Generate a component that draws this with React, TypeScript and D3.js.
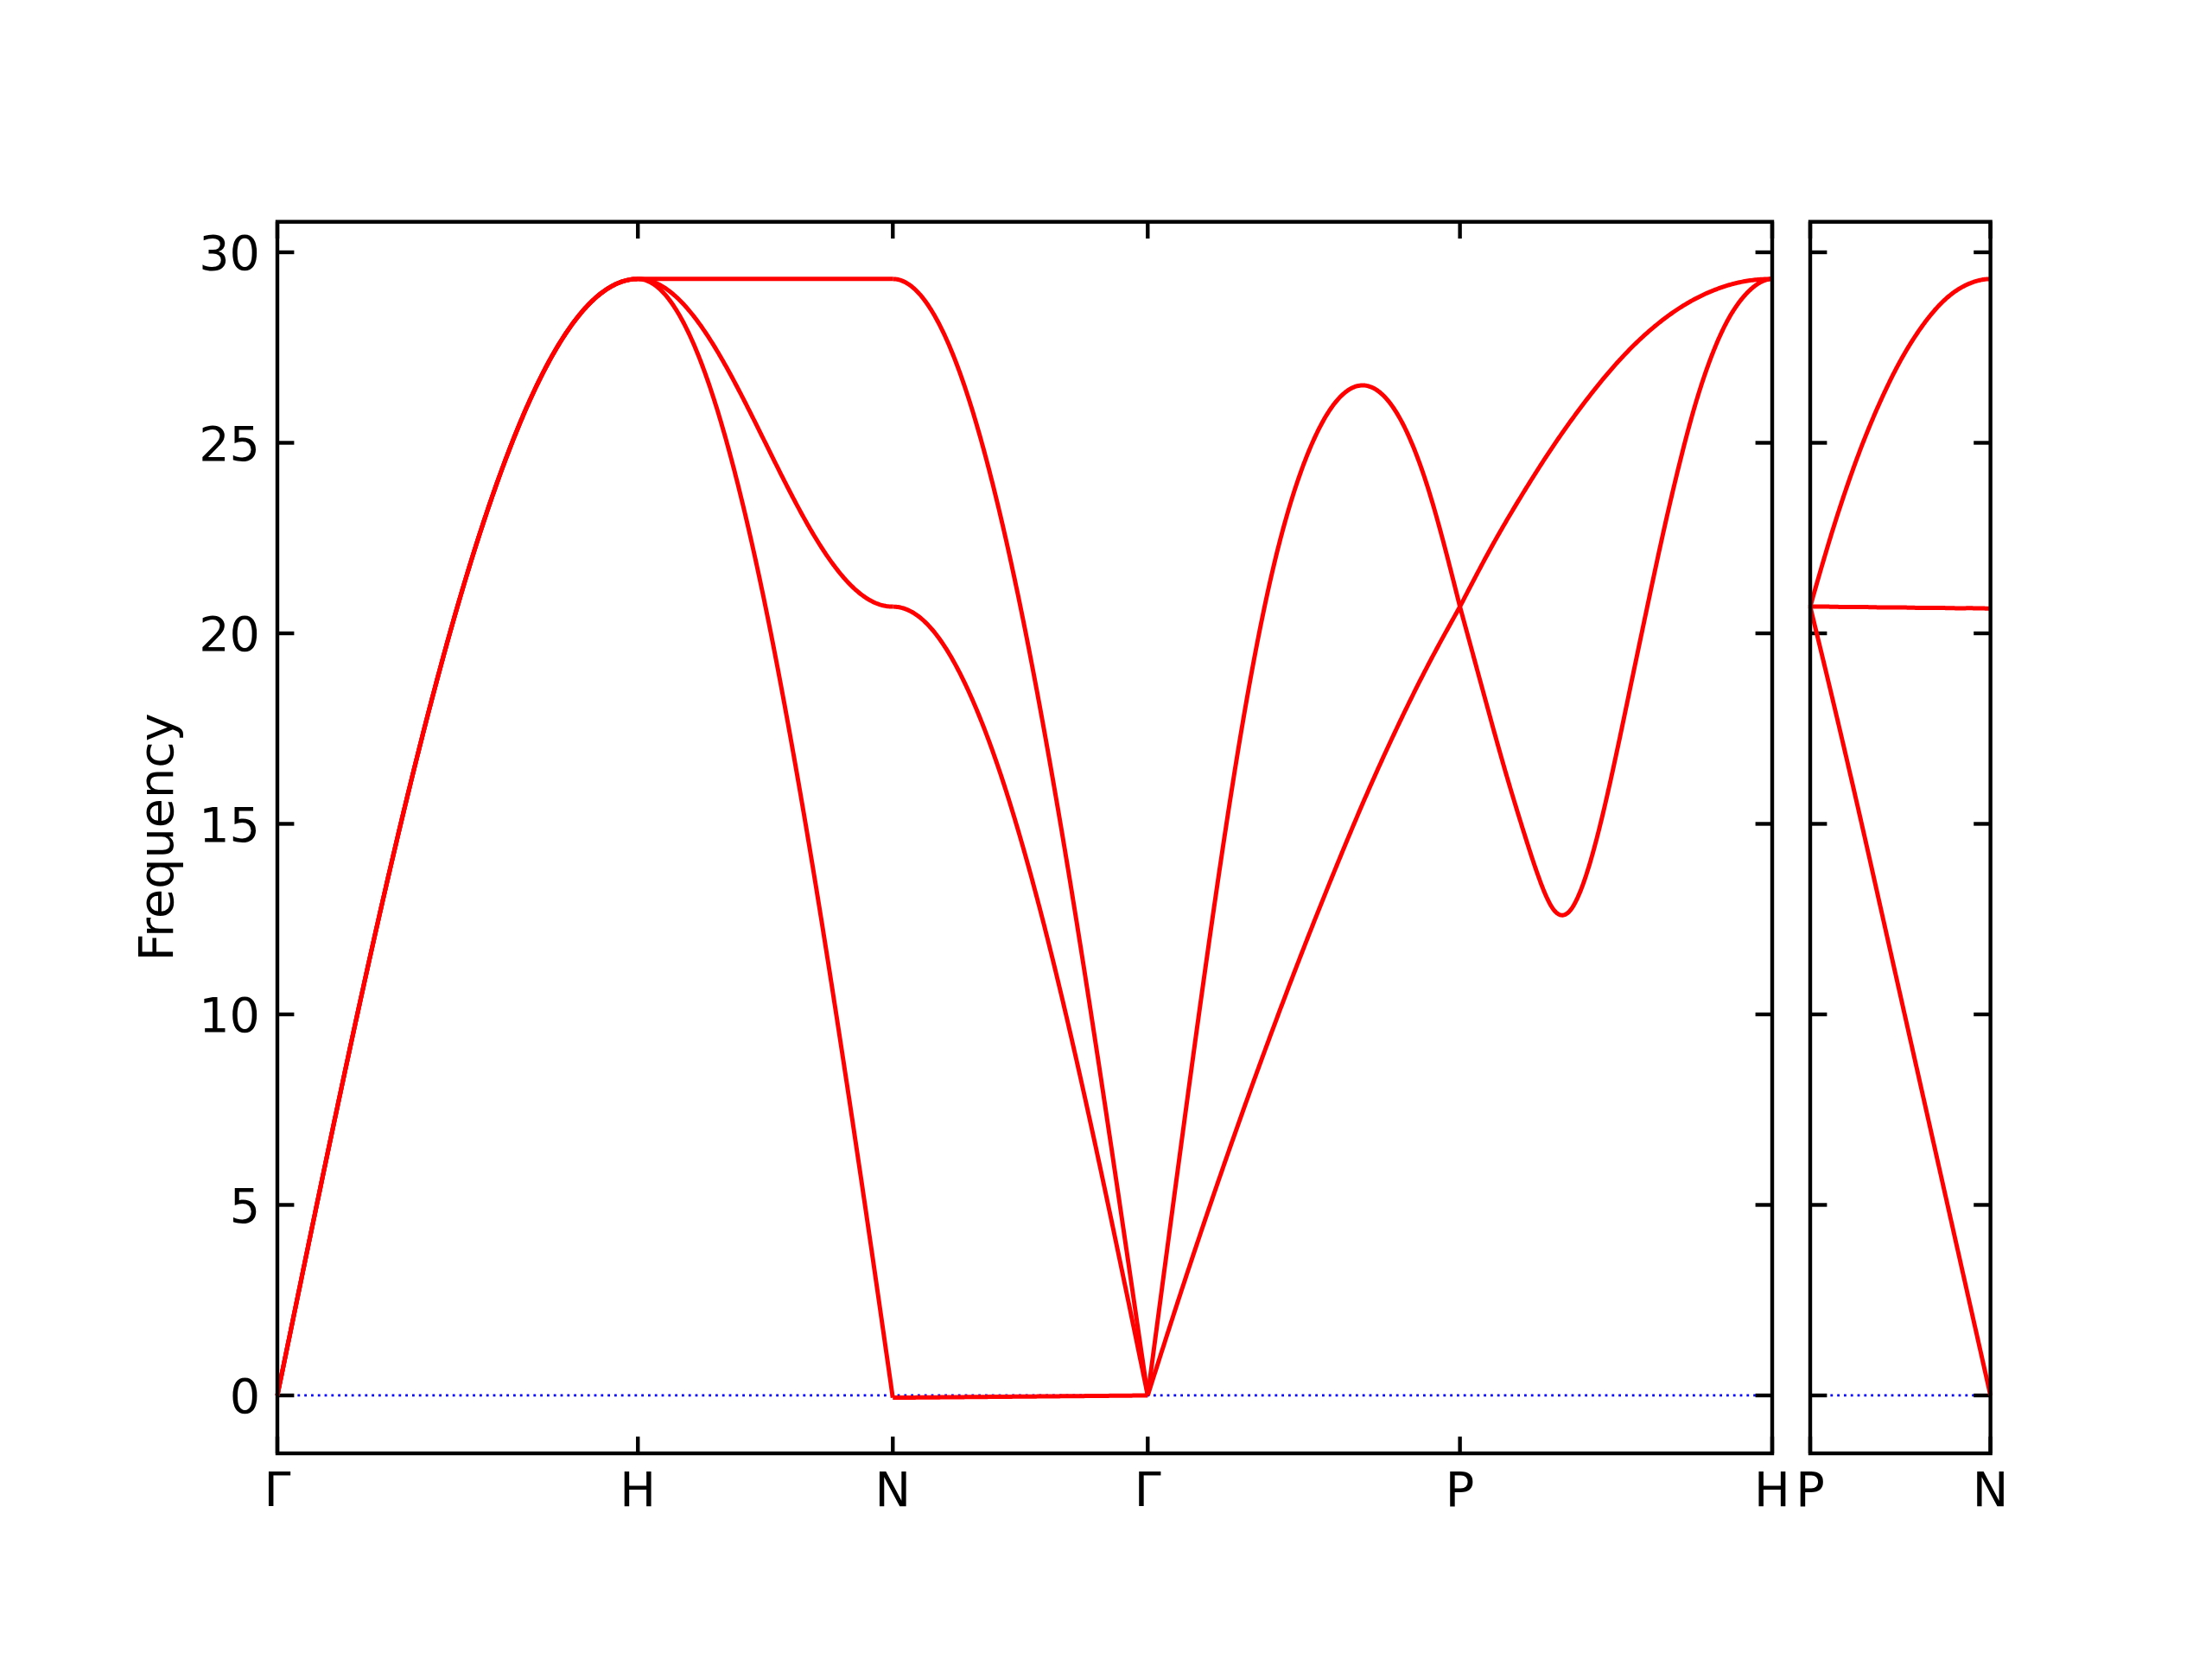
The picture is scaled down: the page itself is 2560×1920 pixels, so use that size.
import React from 'react';
import * as d3 from 'd3';

// ---------- data ----------
const yTicks = [0, 5, 10, 15, 20, 25, 30];
const mainLabels = ['Γ', 'H', 'N', 'Γ', 'P', 'H'];
const mainDist = [0, 1, 1.7071, 2.4142, 3.2802, 4.1463];
const sideLabels = ['P', 'N'];
const sideDist = [0, 0.5];

// values sampled at equal steps along each path segment
// Γ → H (triply degenerate)
const gammaH = [0, 4.58, 9.05, 13.3, 17.22, 20.72, 23.7, 26.11, 27.87, 28.94, 29.3];
// H → N
const hnTop = [29.3, 29.3, 29.3, 29.3, 29.3, 29.3, 29.3, 29.3, 29.3, 29.3, 29.3];
const hnMid = [29.3, 29.09, 28.48, 27.53, 26.33, 25.0, 23.67, 22.47, 21.52, 20.91, 20.7];
const hnLow = [29.3, 28.94, 27.87, 26.11, 23.7, 20.72, 17.22, 13.3, 9.05, 4.58, -0.06];
// N → Γ
const ngTop = [29.3, 28.94, 27.87, 26.11, 23.7, 20.72, 17.22, 13.3, 9.05, 4.58, 0];
const ngMid = [20.7, 20.45, 19.69, 18.44, 16.75, 14.64, 12.17, 9.4, 6.4, 3.24, 0];
const ngLow = [-0.06, -0.054, -0.048, -0.042, -0.036, -0.03, -0.024, -0.018, -0.012, -0.006, 0];
// Γ → P
const gpL = [0, 6.15, 12.1, 17.45, 21.65, 24.45, 26.05, 26.5, 25.75, 23.75, 20.7];
const gpT = [0, 2.55, 5.0, 7.35, 9.6, 11.75, 13.8, 15.75, 17.55, 19.2, 20.7];
// P → H
const phL = [20.7, 19.2, 17.7, 16.25, 14.9, 13.65, 12.75, 12.7, 13.55, 15.0, 16.8, 18.75, 20.7, 22.6, 24.35, 25.9, 27.15, 28.1, 28.75, 29.15, 29.3];
const phT = [20.7, 22.25, 23.65, 24.93, 26.07, 27.07, 27.89, 28.52, 28.96, 29.22, 29.3];
// P → N (second panel)
const pnUp = [20.7, 22.33, 23.8, 25.09, 26.2, 27.15, 27.92, 28.53, 28.96, 29.21, 29.3];
const pnFlat = [20.7, 20.7, 20.69, 20.69, 20.68, 20.68, 20.67, 20.67, 20.66, 20.66, 20.65];
const pnDown = [20.7, 18.75, 16.75, 14.7, 12.6, 10.5, 8.4, 6.3, 4.2, 2.1, 0];

type Branch = { v: number[]; flat: [boolean, boolean] };
type Seg = { panel: 'main' | 'side'; from: number; to: number; branches: Branch[] };
const segments: Seg[] = [
  { panel: 'main', from: 0, to: 1, branches: [
    { v: gammaH, flat: [false, true] }, { v: gammaH, flat: [false, true] }, { v: gammaH, flat: [false, true] }] },
  { panel: 'main', from: 1, to: 2, branches: [
    { v: hnTop, flat: [true, true] }, { v: hnMid, flat: [true, true] }, { v: hnLow, flat: [true, false] }] },
  { panel: 'main', from: 2, to: 3, branches: [
    { v: ngTop, flat: [true, false] }, { v: ngMid, flat: [true, false] }, { v: ngLow, flat: [false, false] }] },
  { panel: 'main', from: 3, to: 4, branches: [
    { v: gpL, flat: [false, false] }, { v: gpT, flat: [false, false] }] },
  { panel: 'main', from: 4, to: 5, branches: [
    { v: phL, flat: [false, true] }, { v: phT, flat: [false, true] }] },
  { panel: 'side', from: 0, to: 1, branches: [
    { v: pnUp, flat: [false, true] }, { v: pnFlat, flat: [false, false] }, { v: pnDown, flat: [false, false] }] },
];

// ---------- layout ----------
const W = 2560, H = 1920;
const top = 256.7, bottom = 1682;
const mainL = 321, mainR = 2051;
const sideL = 2095;
const unit = (mainR - mainL) / mainDist[mainDist.length - 1];
const sideR = sideL + unit * sideDist[1];
const FONT = 'DejaVu Sans, sans-serif';
const FS = 55.6;
const TICK = 19.4;
const SPINE = 4.4;

// cubic spline slopes (uniform spacing), clamped-flat or natural ends
function splineSlopes(v: number[], flat0: boolean, flat1: boolean): number[] {
  const n = v.length;
  const a = new Array(n).fill(0), b = new Array(n).fill(0), c = new Array(n).fill(0), d = new Array(n).fill(0);
  if (flat0) { b[0] = 1; c[0] = 0; d[0] = 0; } else { b[0] = 2; c[0] = 1; d[0] = 3 * (v[1] - v[0]); }
  for (let i = 1; i < n - 1; i++) { a[i] = 1; b[i] = 4; c[i] = 1; d[i] = 3 * (v[i + 1] - v[i - 1]); }
  if (flat1) { a[n - 1] = 0; b[n - 1] = 1; d[n - 1] = 0; } else { a[n - 1] = 1; b[n - 1] = 2; d[n - 1] = 3 * (v[n - 1] - v[n - 2]); }
  for (let i = 1; i < n; i++) {
    const w = a[i] / b[i - 1];
    b[i] -= w * c[i - 1];
    d[i] -= w * d[i - 1];
  }
  const m = new Array(n).fill(0);
  m[n - 1] = d[n - 1] / b[n - 1];
  for (let i = n - 2; i >= 0; i--) m[i] = (d[i] - c[i] * m[i + 1]) / b[i];
  return m;
}

function densify(v: number[], flat0: boolean, flat1: boolean, sub = 24): [number, number][] {
  const m = splineSlopes(v, flat0, flat1);
  const n = v.length;
  const out: [number, number][] = [];
  for (let i = 0; i < n - 1; i++) {
    for (let k = 0; k < sub; k++) {
      const s = k / sub;
      const s2 = s * s, s3 = s2 * s;
      const val = (2 * s3 - 3 * s2 + 1) * v[i] + (s3 - 2 * s2 + s) * m[i] + (-2 * s3 + 3 * s2) * v[i + 1] + (s3 - s2) * m[i + 1];
      out.push([(i + s) / (n - 1), val]);
    }
  }
  out.push([1, v[n - 1]]);
  return out;
}

export default function App() {
  const y = d3.scaleLinear().domain([-1.52, 30.8]).range([bottom, top]);
  const xMain = d3.scaleLinear().domain([0, mainDist[mainDist.length - 1]]).range([mainL, mainR]);
  const xSide = d3.scaleLinear().domain(sideDist).range([sideL, sideR]);

  const panels = [
    { x: xMain, dist: mainDist, labels: mainLabels, l: mainL, r: mainR, ylabels: true },
    { x: xSide, dist: sideDist, labels: sideLabels, l: sideL, r: sideR, ylabels: false },
  ];

  const line = d3.line();
  const paths: string[] = [];
  segments.forEach((s) => {
    const x = s.panel === 'main' ? xMain : xSide;
    const dist = s.panel === 'main' ? mainDist : sideDist;
    const d0 = dist[s.from], d1 = dist[s.to];
    s.branches.forEach((b) => {
      const pts = densify(b.v, b.flat[0], b.flat[1]).map(([t, val]) => [x(d0 + t * (d1 - d0)), y(val)] as [number, number]);
      paths.push(line(pts) as string);
    });
  });

  return (
    <svg width={W} height={H} style={{ position: 'absolute', left: 0, top: 0, background: '#fff' }}>
      <rect x={0} y={0} width={W} height={H} fill="#fff" />
      {panels.map((p, pi) => (
        <g key={pi}>
          <line x1={p.l} x2={p.r} y1={y(0)} y2={y(0)} stroke="#0000ff" strokeWidth={2.8} strokeDasharray="2.8,5" />
          {yTicks.map((t) => (
            <g key={t}>
              <line x1={p.l} x2={p.l + TICK} y1={y(t)} y2={y(t)} stroke="#000" strokeWidth={SPINE} />
              <line x1={p.r} x2={p.r - TICK} y1={y(t)} y2={y(t)} stroke="#000" strokeWidth={SPINE} />
              {p.ylabels && (
                <text x={p.l - 20} y={y(t) + 20.5} textAnchor="end" fontFamily={FONT} fontSize={FS} fill="#000">
                  {t}
                </text>
              )}
            </g>
          ))}
          {p.dist.map((d, i) => (
            <g key={i}>
              <line x1={p.x(d)} x2={p.x(d)} y1={top} y2={top + TICK} stroke="#000" strokeWidth={SPINE} />
              <line x1={p.x(d)} x2={p.x(d)} y1={bottom} y2={bottom - TICK} stroke="#000" strokeWidth={SPINE} />
              <text x={p.x(d)} y={1743} textAnchor="middle" fontFamily={FONT} fontSize={FS} fill="#000">
                {p.labels[i]}
              </text>
            </g>
          ))}
        </g>
      ))}
      {paths.map((d, i) => (
        <path key={i} d={d} fill="none" stroke="#ff0000" strokeWidth={5} strokeLinejoin="round" strokeLinecap="butt" />
      ))}
      {panels.map((p, pi) => (
        <rect key={'s' + pi} x={p.l} y={top} width={p.r - p.l} height={bottom - top} fill="none" stroke="#000" strokeWidth={SPINE} />
      ))}
      <text transform={`translate(200,969) rotate(-90)`} textAnchor="middle" fontFamily={FONT} fontSize={FS} fill="#000">
        Frequency
      </text>
    </svg>
  );
}
